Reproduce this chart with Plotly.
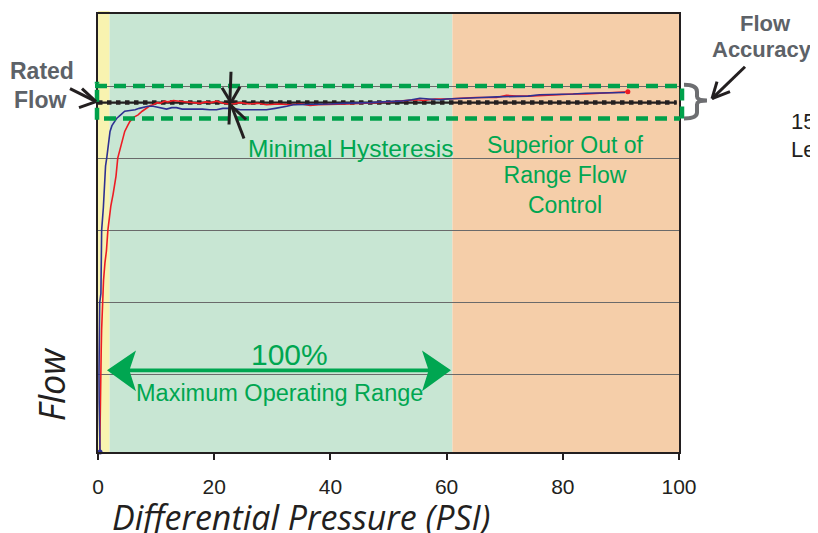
import plotly.graph_objects as go

# ---------------- data ----------------
red_psi = [0.30, 0.33, 0.38, 0.45, 0.55, 0.62, 0.75, 0.95, 1.20, 1.45, 1.70, 2.20, 2.60, 2.90, 3.10,
           3.40, 3.80, 4.20, 4.60, 5.10, 5.50, 6.20, 6.90, 7.60, 8.40, 9.00, 9.50, 10.2, 10.7, 11.5,
           12.0, 13.0, 14.0, 15.0, 16.0, 17.6, 18.5, 19.5, 20.4, 21.5, 22.5, 23.3, 24.5, 26.0, 27.5,
           29.0, 31.0, 33.0, 35.0, 36.5, 38.0, 39.4, 41.0, 43.0, 45.0, 46.2, 48.0, 50.0, 52.0, 54.8,
           56.0, 58.0, 60.0, 62.0, 64.0, 65.0, 67.0, 68.6, 70.3, 72.0, 74.0, 76.0, 78.0, 80.0, 81.8,
           84.0, 86.0, 88.0, 90.0, 91.2]
red_flow = [-0.08, 0.22, 0.64, 1.00, 1.33, 1.61, 1.99, 2.30, 2.55, 2.71, 3.00, 3.33, 3.50, 3.64, 3.75,
            4.00, 4.13, 4.23, 4.37, 4.45, 4.51, 4.57, 4.60, 4.65, 4.69, 4.73, 4.74, 4.77, 4.76, 4.79,
            4.78, 4.80, 4.79, 4.78, 4.78, 4.76, 4.78, 4.77, 4.79, 4.76, 4.75, 4.75, 4.77, 4.75, 4.76,
            4.74, 4.75, 4.74, 4.75, 4.73, 4.74, 4.74, 4.75, 4.75, 4.76, 4.76, 4.77, 4.78, 4.79, 4.81,
            4.80, 4.82, 4.82, 4.83, 4.83, 4.84, 4.84, 4.84, 4.87, 4.86, 4.86, 4.87, 4.88, 4.88, 4.89,
            4.89, 4.90, 4.91, 4.91, 4.92]

blue_psi = [0.35, 0.25, 0.20, 0.17, 0.22, 0.29, 0.50, 0.55, 0.63, 0.92, 1.10, 1.30, 1.50, 1.80, 2.07,
            2.40, 2.80, 3.20, 3.90, 4.60, 5.50, 6.40, 7.10, 7.80, 8.60, 9.50, 10.5, 11.8, 12.7, 13.5,
            14.5, 15.3, 16.5, 18.0, 19.2, 20.4, 21.5, 22.5, 23.3, 24.5, 26.0, 27.5, 29.0, 30.5, 31.5,
            32.5, 33.6, 35.5, 37.0, 39.0, 40.0, 42.0, 43.4, 45.0, 47.0, 49.0, 50.0, 52.0, 54.0, 55.4,
            57.0, 58.9, 60.0, 62.0, 64.0, 66.0, 68.6, 70.0, 72.0, 74.0, 76.0, 78.0, 80.0, 81.8, 84.0,
            86.0, 88.0, 90.7]
blue_flow = [-0.08, 0.22, 0.64, 1.00, 1.33, 1.99, 2.12, 2.55, 3.00, 3.31, 3.64, 3.89, 4.00, 4.23, 4.37,
             4.45, 4.51, 4.55, 4.60, 4.65, 4.66, 4.67, 4.69, 4.70, 4.72, 4.72, 4.70, 4.68, 4.70, 4.70,
             4.68, 4.68, 4.69, 4.68, 4.67, 4.67, 4.69, 4.69, 4.69, 4.67, 4.67, 4.68, 4.67, 4.69, 4.70,
             4.72, 4.74, 4.74, 4.74, 4.75, 4.75, 4.76, 4.76, 4.77, 4.77, 4.78, 4.78, 4.79, 4.81, 4.83,
             4.82, 4.81, 4.82, 4.83, 4.84, 4.84, 4.85, 4.85, 4.85, 4.86, 4.88, 4.88, 4.89, 4.89, 4.90,
             4.90, 4.91, 4.91]

rated_flow = 4.77
accuracy_band = [4.55, 5.00]
zone_edges = [0, 2, 61, 100]          # PSI: start-up / operating / out-of-range
zone_colors = ["#f8f3b0", "#c8e6d3", "#f5cea9"]
x_ticks = [0, 20, 40, 60, 80, 100]
y_grid = [1, 2, 3, 4, 5]
Y_RANGE = [-0.08, 6.0]

# ---------------- layout geometry helpers ----------------
# the page has an 8px body margin, so the figure is 8px smaller and every
# page-pixel position below is shifted by 8px.
OFF = 8
W, H = 818 - OFF, 533 - OFF
ML, MT = 98 - OFF, 12 - OFF
MR, MB = 818 - 679, 533 - 452
PW, PH = W - ML - MR, H - MT - MB


def PX(px):
    return (px - OFF - ML) / PW


def PY(py):
    return (H - MB - (py - OFF)) / PH


def VY(v):
    return (v - Y_RANGE[0]) / (Y_RANGE[1] - Y_RANGE[0])


def path(points, close=False):
    s = "M " + " L ".join(f"{PX(x):.5f},{PY(y):.5f}" for x, y in points)
    return s + (" Z" if close else "")


GREEN = "#00a651"
DGREEN = "#00a14b"
GRAY = "#5d6268"
BLACK = "#231f20"
RED = "#ed1c24"
BLUE = "#2e3192"

fig = go.Figure()

fig.add_trace(go.Scatter(x=[0, 99.6], y=[rated_flow, rated_flow], mode="lines",
                         line=dict(color=BLACK, width=2.2), hoverinfo="skip", showlegend=False))
fig.add_trace(go.Scatter(x=[0, 99.6], y=[rated_flow, rated_flow], mode="lines",
                         line=dict(color=BLACK, width=4.5, dash="dot"), hoverinfo="skip", showlegend=False))
fig.add_trace(go.Scatter(x=red_psi, y=red_flow, mode="lines", line=dict(color=RED, width=1.6),
                         showlegend=False))
fig.add_trace(go.Scatter(x=blue_psi, y=blue_flow, mode="lines", line=dict(color=BLUE, width=1.6),
                         showlegend=False))
fig.add_trace(go.Scatter(x=[red_psi[-1]], y=[red_flow[-1]], mode="markers",
                         marker=dict(color=RED, size=5), showlegend=False, cliponaxis=False))
fig.add_trace(go.Scatter(x=[blue_psi[0]], y=[blue_flow[0]], mode="markers",
                         marker=dict(color=BLUE, size=5), showlegend=False, cliponaxis=False))

shapes = []
for i, c in enumerate(zone_colors):
    shapes.append(dict(type="rect", xref="x", yref="paper", x0=zone_edges[i], x1=zone_edges[i + 1],
                       y0=0, y1=1.0 if i else 1.007, fillcolor=c, line=dict(width=0), layer="below"))

dash = dict(color=DGREEN, width=4.5, dash="12px,7px")
lo, hi = VY(accuracy_band[0]), VY(accuracy_band[1])
shapes += [
    dict(type="line", xref="paper", yref="paper", x0=PX(95), x1=PX(684), y0=hi, y1=hi, line=dash),
    dict(type="line", xref="paper", yref="paper", x0=PX(104), x1=PX(680), y0=lo, y1=lo, line=dash),
    dict(type="line", xref="paper", yref="paper", x0=PX(97), x1=PX(97), y0=lo - 0.003, y1=hi + 0.01,
         line=dict(color=DGREEN, width=4.5, dash="12px,6px")),
    dict(type="line", xref="paper", yref="paper", x0=PX(682), x1=PX(682), y0=lo, y1=hi,
         line=dict(color=DGREEN, width=4.5, dash="12px,6px")),
]

# curly brace for flow accuracy
brace = ("M {a},{b} Q {c},{b} {c},{d} L {c},{e} Q {c},{f} {g},{f} Q {c},{f} {c},{h} L {c},{i} "
         "Q {c},{j} {a},{j}").format(
    a=f"{PX(684):.5f}", b=f"{PY(83):.5f}", c=f"{PX(697):.5f}", d=f"{PY(90):.5f}",
    e=f"{PY(95):.5f}", f=f"{PY(99):.5f}", g=f"{PX(707):.5f}", h=f"{PY(103):.5f}",
    i=f"{PY(111):.5f}", j=f"{PY(117):.5f}")
shapes.append(dict(type="path", xref="paper", yref="paper", path=brace,
                   line=dict(color="#6d6e71", width=4)))

# double arrow for operating range
shapes.append(dict(type="path", xref="paper", yref="paper", fillcolor=GREEN, line=dict(width=0),
                   path=path([(107, 370), (136, 350), (130, 368), (428, 368), (422, 350), (451, 370),
                              (422, 391), (428, 372), (130, 372), (136, 391)], close=True)))

# black pointer lines (arrows / hysteresis mark)
blk = dict(color=BLACK, width=3)
for (x0, y0), (x1, y1) in [((70, 87), (96, 100)), ((96, 100), (82, 87)), ((96, 100), (79, 106)),
                           ((745, 65), (712, 97)), ((712, 97), (730, 90)), ((712, 97), (717, 80)),
                           ((231, 70), (229, 123)), ((222, 86), (231, 101)), ((240, 85), (231, 101)),
                           ((231, 103), (244, 137)), ((231, 104), (246, 118))]:
    shapes.append(dict(type="line", xref="paper", yref="paper", x0=PX(x0), y0=PY(y0), x1=PX(x1), y1=PY(y1),
                       line=blk))

fig.update_layout(shapes=shapes)

ann = []


def T(text, px, py, size, color, bold=False, italic=False, family="Liberation Sans", align="center",
      xanchor="center", angle=0):
    if bold:
        text = f"<b>{text}</b>"
    if italic:
        text = f"<i>{text}</i>"
    ann.append(dict(text=text, x=PX(px), y=PY(py), xref="paper", yref="paper", showarrow=False,
                    font=dict(size=size, color=color, family=family), align=align, xanchor=xanchor,
                    yanchor="middle", textangle=angle))


T("Rated", 42, 69, 23, GRAY, bold=True)
T("Flow", 40, 98, 23, GRAY, bold=True)
T("Flow", 765, 22, 22, GRAY, bold=True)
T("Accuracy", 762, 48, 22, GRAY, bold=True)
T("Minimal Hysteresis", 351, 147, 24.5, GREEN)
T("Superior Out of<br>Range Flow<br>Control", 565, 174, 23, GREEN)
T("100%", 289, 354, 30, GREEN)
T("Maximum Operating Range", 279, 393, 23.5, GREEN)
T("15", 789, 120, 22, BLACK, xanchor="left")
T("Le", 789, 148, 22, BLACK, xanchor="left")
T("Differential Pressure (PSI)", 301, 517, 34, BLACK, italic=True, family="Open Sans")
T("Flow", 51, 384, 36, BLACK, italic=True, family="Open Sans", angle=-90)

fig.update_layout(
    annotations=ann,
    width=W, height=H,
    margin=dict(l=ML, r=MR, t=MT, b=MB),
    plot_bgcolor="white", paper_bgcolor="white",
    xaxis=dict(range=[0, 100], tickvals=x_ticks, ticks="outside", ticklen=6, tickwidth=1.5,
               tickcolor=BLACK, showline=True, linewidth=2, linecolor=BLACK, mirror=True,
               showgrid=False, zeroline=False, ticklabelstandoff=9,
               tickfont=dict(size=21, color=BLACK, family="Liberation Sans")),
    yaxis=dict(range=Y_RANGE, tickvals=y_grid, showticklabels=False, ticks="", showgrid=True,
               gridcolor="#6a6a6a", gridwidth=1.2, showline=True, linewidth=2, linecolor=BLACK,
               mirror=True, zeroline=False),
)

fig.write_html("out.html",
               post_script="document.documentElement.style.overflow='hidden';"
                           "document.body.style.overflow='hidden';")
